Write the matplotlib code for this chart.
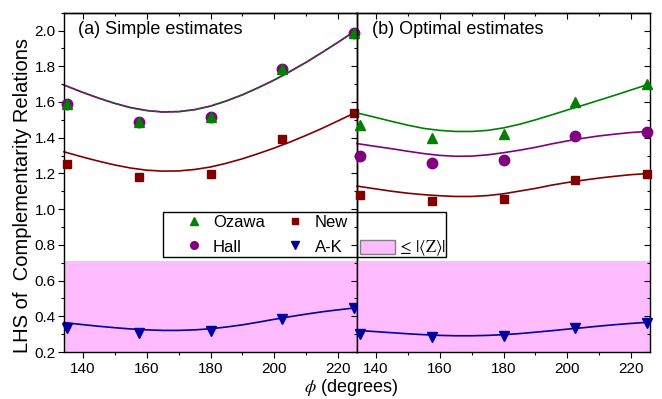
import matplotlib
matplotlib.use("Agg")
import matplotlib.pyplot as plt
import matplotlib.patches as mpatches
from matplotlib.lines import Line2D
from matplotlib.ticker import MultipleLocator, FormatStrFormatter

plt.rcParams['font.family'] = ['Liberation Sans', 'DejaVu Sans']
plt.rcParams['mathtext.fontset'] = 'stix'

# ---- data ----
phi = [135, 157.5, 180, 202.5, 225]

ozawa_a = [1.588, 1.489, 1.515, 1.783, 1.985]
hall_a = [1.588, 1.489, 1.515, 1.783, 1.985]
new_a = [1.251, 1.180, 1.199, 1.391, 1.539]
ak_a = [0.332, 0.308, 0.315, 0.386, 0.444]

ozawa_b = [1.470, 1.399, 1.420, 1.600, 1.698]
hall_b = [1.298, 1.261, 1.274, 1.408, 1.433]
new_b = [1.081, 1.045, 1.057, 1.162, 1.197]
ak_b = [0.300, 0.282, 0.287, 0.337, 0.365]

err = [0.012, 0.012, 0.012, 0.012, 0.012]

# theory curves
phi_c = [134, 140, 145, 150, 155, 160, 165, 170, 175, 180,
         185, 190, 195, 200, 205, 210, 215, 220, 226]
oz_hall_curve_a = [1.695, 1.653, 1.621, 1.592, 1.568, 1.552, 1.544, 1.546, 1.557, 1.577,
                   1.606, 1.640, 1.680, 1.723, 1.771, 1.822, 1.877, 1.934, 2.005]
new_curve_a = [1.321, 1.291, 1.268, 1.247, 1.230, 1.218, 1.213, 1.214, 1.222, 1.236,
               1.257, 1.282, 1.311, 1.342, 1.376, 1.413, 1.452, 1.494, 1.545]
ak_curve_a = [0.365, 0.353, 0.344, 0.336, 0.329, 0.324, 0.321, 0.321, 0.324, 0.330,
              0.340, 0.352, 0.367, 0.383, 0.398, 0.412, 0.425, 0.436, 0.448]

ozawa_curve_b = [1.539, 1.513, 1.491, 1.470, 1.452, 1.441, 1.435, 1.435, 1.441, 1.455,
                 1.475, 1.500, 1.527, 1.555, 1.582, 1.610, 1.638, 1.667, 1.702]
hall_curve_b = [1.367, 1.351, 1.338, 1.324, 1.311, 1.301, 1.296, 1.297, 1.304, 1.316,
                1.330, 1.346, 1.365, 1.382, 1.397, 1.410, 1.420, 1.429, 1.436]
new_curve_b = [1.129, 1.113, 1.100, 1.089, 1.081, 1.075, 1.071, 1.071, 1.076, 1.086,
               1.101, 1.116, 1.134, 1.149, 1.162, 1.174, 1.184, 1.193, 1.200]
ak_curve_b = [0.321, 0.314, 0.308, 0.302, 0.297, 0.293, 0.291, 0.291, 0.293, 0.297,
              0.303, 0.311, 0.319, 0.328, 0.336, 0.345, 0.353, 0.360, 0.367]

z_bound = 0.712

x_ticks = [140, 160, 180, 200, 220]

# ---- styles ----
C_OZ = '#008000'
C_HALL = '#800080'
C_NEW = '#800000'
C_AK = '#0000A0'
C_PINK = '#FFBBFF'

fig = plt.figure(figsize=(6.62, 3.99), dpi=100)
W, H = 662, 399
L, M, R = 64 / W, 357 / W, 650 / W
B, T = 1 - 352 / H, 1 - 12.7 / H
axa = fig.add_axes([L, B, M - L, T - B])
axb = fig.add_axes([M, B, R - M, T - B])


def style(ax, left_labels):
    ax.set_facecolor('none')
    ax.set_xlim(134, 226)
    ax.set_ylim(0.2, 2.1)
    ax.set_xticks(x_ticks)
    ax.xaxis.set_minor_locator(MultipleLocator(10))
    ax.yaxis.set_major_locator(MultipleLocator(0.2))
    ax.yaxis.set_minor_locator(MultipleLocator(0.1))
    ax.tick_params(axis='x', which='both', direction='out', bottom=True, top=False,
                   labelsize=11, pad=3, width=0.8)
    ax.tick_params(axis='x', which='major', length=4)
    ax.tick_params(axis='x', which='minor', length=2.2)
    ax.tick_params(axis='y', which='both', width=0.8, labelsize=11, pad=2)
    ax.tick_params(axis='y', which='major', length=4)
    ax.tick_params(axis='y', which='minor', length=2.2)
    if left_labels:
        ax.tick_params(axis='y', which='both', direction='out', left=True, right=False)
    else:
        ax.tick_params(axis='y', which='both', direction='in', left=False, right=True,
                       labelleft=False)
    for s in ax.spines.values():
        s.set_linewidth(1.0)
    ax.yaxis.set_major_formatter(FormatStrFormatter('%.1f'))


style(axa, True)
style(axb, False)

for ax in (axa, axb):
    secx = ax.secondary_xaxis('top')
    secx.set_xticks(x_ticks)
    secx.xaxis.set_minor_locator(MultipleLocator(10))
    secx.tick_params(which='both', direction='in', labeltop=False, width=0.8)
    secx.tick_params(which='major', length=4)
    secx.tick_params(which='minor', length=2.2)
    secx.spines['top'].set_linewidth(1.0)
secy = axa.secondary_yaxis('right')
secy.yaxis.set_major_locator(MultipleLocator(0.2))
secy.yaxis.set_minor_locator(MultipleLocator(0.1))
secy.tick_params(which='both', direction='in', labelright=False, width=0.8)
secy.tick_params(which='major', length=4)
secy.tick_params(which='minor', length=2.2)

for ax in (axa, axb):
    ax.axhspan(0.2, z_bound, color=C_PINK, zorder=0, lw=0)

ms_t, ms_c, ms_s = 7, 7.5, 5.5
lw_c = 1.2

# panel (a)
axa.plot(phi_c, oz_hall_curve_a, color=C_HALL, lw=1.3, zorder=2)
axa.plot(phi_c, oz_hall_curve_a, color=C_OZ, lw=1.0, ls=(0, (2, 2)), zorder=2.1)
axa.plot(phi_c, new_curve_a, color=C_NEW, lw=lw_c, zorder=2)
axa.plot(phi_c, ak_curve_a, color=C_AK, lw=lw_c, zorder=2)
axa.errorbar(phi, hall_a, yerr=err, fmt='o', color=C_HALL, ms=ms_c, elinewidth=1, capsize=0, zorder=3)
axa.errorbar(phi, ozawa_a, yerr=err, fmt='^', color=C_OZ, ms=ms_t, elinewidth=1, capsize=0, zorder=4)
axa.errorbar(phi, new_a, yerr=err, fmt='s', color=C_NEW, ms=ms_s, elinewidth=1, capsize=0, zorder=3)
axa.errorbar(phi, ak_a, yerr=err, fmt='v', color=C_AK, ms=ms_t, elinewidth=1, capsize=0, zorder=3)

# panel (b)
axb.plot(phi_c, ozawa_curve_b, color=C_OZ, lw=lw_c, zorder=2)
axb.plot(phi_c, hall_curve_b, color=C_HALL, lw=lw_c, zorder=2)
axb.plot(phi_c, new_curve_b, color=C_NEW, lw=lw_c, zorder=2)
axb.plot(phi_c, ak_curve_b, color=C_AK, lw=lw_c, zorder=2)
axb.errorbar(phi, ozawa_b, yerr=err, fmt='^', color=C_OZ, ms=ms_t, elinewidth=1, capsize=0, zorder=3)
axb.errorbar(phi, hall_b, yerr=err, fmt='o', color=C_HALL, ms=ms_c, elinewidth=1, capsize=0, zorder=3)
axb.errorbar(phi, new_b, yerr=err, fmt='s', color=C_NEW, ms=ms_s, elinewidth=1, capsize=0, zorder=3)
axb.errorbar(phi, ak_b, yerr=err, fmt='v', color=C_AK, ms=ms_t, elinewidth=1, capsize=0, zorder=3)

for ax in (axa, axb):
    for art in ax.lines + ax.collections:
        art.set_clip_on(False)

axa.text(0.047, 0.950, '(a) Simple estimates', transform=axa.transAxes,
         fontsize=13, ha='left', va='center')
axb.text(0.05, 0.950, '(b) Optimal estimates', transform=axb.transAxes,
         fontsize=13, ha='left', va='center')

axa.set_ylabel('LHS of  Complementarity Relations', fontsize=14.5)
axa.yaxis.set_label_coords(-0.11, 0.461)
fig.text(351 / W, 1 - 387 / H, r'$\phi$ (degrees)', fontsize=13,
         ha='center', va='center')

# legend frame (drawn beneath the transparent axes so the panel divider shows)
box = mpatches.Rectangle((163 / W, 1 - 257.3 / H), (445.7 - 163) / W, (257.3 - 211.7) / H,
                         transform=fig.transFigure, facecolor='white',
                         edgecolor='black', lw=1.0, zorder=-1)
fig.patches.append(box)

handles = [
    Line2D([], [], ls='none', marker='^', color=C_OZ, ms=6),
    Line2D([], [], ls='none', marker='o', color=C_HALL, ms=5.5),
    Line2D([], [], ls='none', marker='s', color=C_NEW, ms=5),
    Line2D([], [], ls='none', marker='v', color=C_AK, ms=6),
    Line2D([], [], ls='none'),
    mpatches.Patch(facecolor=C_PINK, edgecolor='#808080', lw=1),
]
labels = ['Ozawa', 'Hall', 'New', 'A-K', '', r'$\leq\,|\langle\mathrm{Z}\rangle|$']
leg = fig.legend(handles, labels, ncol=3, loc='upper left',
                 bbox_to_anchor=(176 / W, 1 - 214.5 / H), borderaxespad=0,
                 fontsize=12, frameon=False,
                 handlelength=2.1, handleheight=0.95,
                 handletextpad=0.12, columnspacing=0.76, labelspacing=0.5,
                 borderpad=0.0)
leg.set_zorder(10)

fig.savefig('out.png', dpi=100)
